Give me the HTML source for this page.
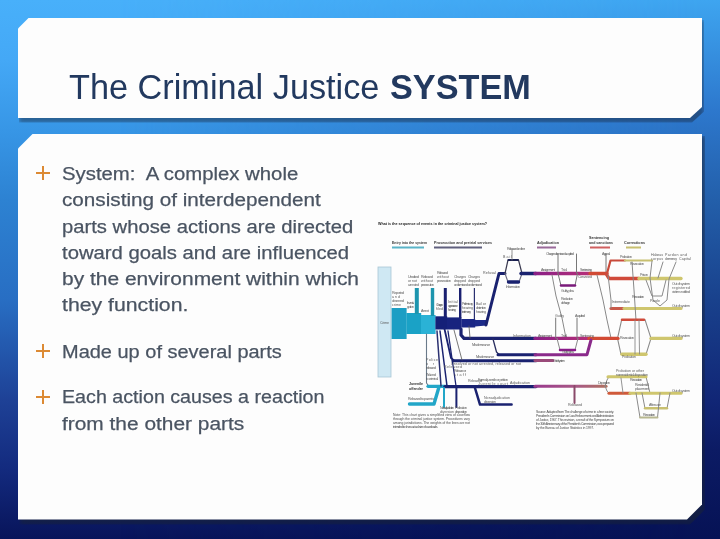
<!DOCTYPE html>
<html><head><meta charset="utf-8">
<style>
*{margin:0;padding:0;box-sizing:border-box}
html,body{width:720px;height:539px;overflow:hidden}
body{position:relative;font-family:"Liberation Sans",sans-serif;
background:linear-gradient(180deg,rgb(72,176,250) 0px,rgb(68,168,246) 60px,rgb(55,150,230) 130px,rgb(45,130,210) 200px,rgb(40,110,195) 300px,rgb(30,65,150) 400px,rgb(19,42,126) 470px,rgb(8,20,90) 539px);}
#bgr{position:absolute;left:0;top:0;width:720px;height:539px;
background:linear-gradient(180deg,rgb(62,165,240) 0px,rgb(45,120,205) 110px,rgb(35,95,170) 200px,rgb(25,65,140) 300px,rgb(17,38,118) 400px,rgb(12,27,100) 450px,rgb(6,18,85) 539px);
-webkit-mask-image:linear-gradient(90deg,transparent 0px,transparent 120px,black 700px);mask-image:linear-gradient(90deg,transparent 0px,transparent 120px,black 700px)}
.shadow{position:absolute;background:rgba(25,35,55,0.6);filter:blur(2px)}
.panel{position:absolute;background:#fdfdfd}
#tp{left:18px;top:17.5px;width:684px;height:100.5px;
clip-path:polygon(11px 0,100% 0,100% calc(100% - 11px),calc(100% - 12px) 100%,0 100%,0 11px)}
#tps{opacity:0.78;left:19px;top:20px;width:685px;height:102.5px;
clip-path:polygon(11px 0,100% 0,100% calc(100% - 11px),calc(100% - 12px) 100%,0 100%,0 11px)}
#cp{left:18px;top:133.5px;width:684px;height:386px;
clip-path:polygon(15px 0,100% 0,100% calc(100% - 15px),calc(100% - 15px) 100%,0 100%,0 15px)}
#cps{left:19.5px;top:136px;width:685.5px;height:388.5px;
clip-path:polygon(15px 0,100% 0,100% calc(100% - 15px),calc(100% - 15px) 100%,0 100%,0 15px)}
.t{position:absolute;white-space:nowrap;transform-origin:0 0;color:#22395f;line-height:1}
.b{font-weight:bold}
.ln{position:absolute;white-space:nowrap;color:#4a5462;line-height:1;transform-origin:0 0;-webkit-text-stroke:0.25px #4a5462}
.plus{position:absolute;width:14px;height:14px;filter:blur(0.35px)}
.plus:before,.plus:after{content:"";position:absolute;background:#dc8a34}
.plus:before{left:0;top:5.9px;width:14.4px;height:2.2px}
.plus:after{left:6px;top:0;width:2.2px;height:14px}

.ln{font-size:18.7px}
</style></head><body>
<div id="bgr"></div>
<div class="shadow" id="tps"></div>
<div class="panel" id="tp"></div>
<div class="shadow" id="cps"></div>
<div class="panel" id="cp"></div>
<div class="t" style="left:69px;top:69.65px;font-size:35.5px;transform:scaleX(0.9653)">The Criminal Justice</div>
<div class="t b" style="left:390px;top:69.65px;font-size:35.5px;transform:scaleX(0.9651)">SYSTEM</div>
<div class="ln" style="left:62px;top:164.97px;transform:scaleX(1.0882)">System:&nbsp; A complex whole</div>
<div class="ln" style="left:62px;top:191.37px;transform:scaleX(1.1071)">consisting of interdependent</div>
<div class="ln" style="left:62px;top:217.57px;transform:scaleX(1.0825)">parts whose actions are directed</div>
<div class="ln" style="left:62px;top:243.97px;transform:scaleX(1.0837)">toward goals and are influenced</div>
<div class="ln" style="left:62px;top:270.37px;transform:scaleX(1.1214)">by the environment within which</div>
<div class="ln" style="left:62px;top:296.37px;transform:scaleX(1.1371)">they function.</div>
<div class="ln" style="left:62px;top:342.97px;transform:scaleX(1.0687)">Made up of several parts</div>
<div class="ln" style="left:62px;top:388.47px;transform:scaleX(1.0529)">Each action causes a reaction</div>
<div class="ln" style="left:62px;top:414.77px;transform:scaleX(1.1173)">from the other parts</div>
<div class="plus" style="left:35.7px;top:166.00px"></div>
<div class="plus" style="left:35.7px;top:344.10px"></div>
<div class="plus" style="left:35.7px;top:389.70px"></div>
<svg style="position:absolute;left:0;top:0;filter:blur(0.3px)" width="720" height="539" viewBox="0 0 720 539">
<defs>
<linearGradient id="gp" gradientUnits="userSpaceOnUse" x1="535" x2="592" y1="0" y2="0"><stop offset="0" stop-color="#8a1f86"/><stop offset="1" stop-color="#b83078"/></linearGradient>
<linearGradient id="gj" gradientUnits="userSpaceOnUse" x1="535" x2="606" y1="0" y2="0"><stop offset="0" stop-color="#9a3a8e"/><stop offset="0.6" stop-color="#a85a84"/><stop offset="1" stop-color="#b07060"/></linearGradient>
</defs>
<g font-family="Liberation Sans" fill="#777">
<!-- header -->
<text x="378" y="225" font-size="4.4" font-weight="bold" fill="#222" textLength="109" lengthAdjust="spacingAndGlyphs">What is the sequence of events in the criminal justice system?</text>
<text x="392" y="243.5" font-size="4" font-weight="bold" fill="#333" textLength="35" lengthAdjust="spacingAndGlyphs">Entry into the system</text>
<text x="434" y="243.5" font-size="4" font-weight="bold" fill="#333" textLength="58" lengthAdjust="spacingAndGlyphs">Prosecution and pretrial services</text>
<text x="537" y="243.5" font-size="4" font-weight="bold" fill="#333" textLength="22" lengthAdjust="spacingAndGlyphs">Adjudication</text>
<text x="589" y="239" font-size="4" font-weight="bold" fill="#333" textLength="20" lengthAdjust="spacingAndGlyphs">Sentencing</text>
<text x="589" y="243.5" font-size="4" font-weight="bold" fill="#333" textLength="24" lengthAdjust="spacingAndGlyphs">and sanctions</text>
<text x="624" y="243.5" font-size="4" font-weight="bold" fill="#333" textLength="21" lengthAdjust="spacingAndGlyphs">Corrections</text>
</g>
<g>
<rect x="392" y="246.5" width="32" height="2" fill="#5ab4c8"/>
<rect x="434" y="246.5" width="48" height="2" fill="#60607e"/>
<rect x="537" y="246.5" width="19" height="2" fill="#9a6a9a"/>
<rect x="590" y="246.5" width="20" height="2" fill="#d06060"/>
<rect x="626" y="246.5" width="15" height="2" fill="#c8c070"/>
</g>
<!-- light column -->
<rect x="378" y="267" width="13" height="110" fill="#cfe8f3" stroke="#a8c6d4" stroke-width="0.8"/>
<!-- teal blocks -->
<rect x="391.6" y="308" width="15" height="31" fill="#1c9ec4"/>
<rect x="406.4" y="313" width="14.8" height="21" fill="#1aa2c6"/>
<rect x="414.8" y="288" width="4" height="26" fill="#1d95ae"/>
<rect x="421" y="315" width="14.6" height="19" fill="#2ab2d6"/>
<rect x="430.8" y="288" width="3.4" height="28" fill="#1d95ae"/>
<!-- navy blocks -->
<rect x="435.4" y="316.3" width="11.8" height="13.2" fill="#152078"/>
<rect x="443.8" y="288" width="3" height="29" fill="#1a2070"/>
<rect x="447" y="317.4" width="14.5" height="12.1" fill="#18237e"/>
<rect x="459" y="288" width="2.4" height="30" fill="#1a2070"/>
<rect x="461.3" y="319" width="13.9" height="8.5" fill="#1a2686"/>
<rect x="473.8" y="288" width="1.2" height="31" fill="#2a3070"/>
<polygon points="475,320 486,320 487.5,322 486.5,325.5 475,326.5" fill="#1c2a8a"/>
<g fill="none" stroke-linecap="round" stroke-linejoin="round">
<!-- diagonal to hexagon -->
<polyline points="486,325 499,273.5 505,273.5" stroke="#1a2270" stroke-width="3"/>
<!-- hexagon 1 -->
<polyline points="505,273.5 508,260 518.5,260 522,273.5" stroke="#3a3a50" stroke-width="1.2"/>
<line x1="508.5" y1="260" x2="518" y2="260" stroke="#1a2050" stroke-width="2"/>
<polyline points="505,273.5 508,282 519,282 522,273.5" stroke="#6a6a80" stroke-width="1.1"/>
<line x1="508.5" y1="282" x2="518.5" y2="282" stroke="#1a2270" stroke-width="3.4"/>
<line x1="512" y1="249" x2="512" y2="260" stroke="#777" stroke-width="0.8"/>
<!-- main line y=273.5 -->
<line x1="521" y1="273.5" x2="536" y2="273.5" stroke="#1a2270" stroke-width="3.4"/>
<line x1="535" y1="273.5" x2="591" y2="273.5" stroke="url(#gp)" stroke-width="3.4"/>
<line x1="590" y1="273.5" x2="607" y2="273.5" stroke="#d24a34" stroke-width="3.4"/>
<!-- verticals -->
<line x1="558" y1="254" x2="558" y2="273" stroke="#777" stroke-width="1"/>
<line x1="576.5" y1="254" x2="576.5" y2="273" stroke="#777" stroke-width="1"/>
<line x1="606" y1="254" x2="606" y2="273" stroke="#777" stroke-width="1"/>
<!-- purple trap 1 -->
<polyline points="558,273.5 561,285.5 575,285.5 577.5,273.5" stroke="#777" stroke-width="1"/>
<line x1="561" y1="285.5" x2="575" y2="285.5" stroke="#7a1a7a" stroke-width="2.5"/>
<!-- red upper / lower -->
<polyline points="607,273.5 610.5,260.5 625,260.5" stroke="#c84a3a" stroke-width="2.2"/>
<line x1="625" y1="260.5" x2="652" y2="260.5" stroke="#c8c070" stroke-width="2.2"/>
<polyline points="606,273.5 609,278.5 639,278.5" stroke="#d04a3a" stroke-width="3.4"/>
<line x1="639" y1="278.5" x2="681" y2="278.5" stroke="#cfc66e" stroke-width="3.4"/>
<!-- line y=308.5 -->
<line x1="611" y1="308.5" x2="624" y2="308.5" stroke="#c85a4a" stroke-width="3.1"/>
<line x1="624" y1="308.5" x2="681" y2="308.5" stroke="#cfc66e" stroke-width="3.1"/>
<!-- gray diagonals upper right -->
<polyline points="552,275 556,296 562,318 566,338" stroke="#888" stroke-width="1"/>
<polyline points="597,275 603,300 607,320 611,338" stroke="#888" stroke-width="1"/>
<polyline points="608,275 611,300 611,308" stroke="#888" stroke-width="1"/>
<polyline points="632,262 634,290 636,320" stroke="#888" stroke-width="1"/>
<polyline points="652,261 650,278 653,300 660,306 667,300 669,279 676,262" stroke="#8a8a8a" stroke-width="1"/>
<polyline points="663,262 658,278" stroke="#8a8a8a" stroke-width="1"/>
<polyline points="646,280 652,296 662,296 666,280" stroke="#8a8a8a" stroke-width="1"/>
<!-- hexagon 2 -->
<polyline points="617.5,338.4 621.7,319.7 645,319.7 651,338.4 646,354.3 621,354.3 617.5,338.4" stroke="#8a8a8a" stroke-width="1.1"/>
<line x1="622" y1="319.7" x2="644" y2="319.7" stroke="#d04a3a" stroke-width="2.5"/>
<line x1="622" y1="354.3" x2="646" y2="354.3" stroke="#cfc66e" stroke-width="3.4"/>
<line x1="635" y1="320" x2="635" y2="354" stroke="#888" stroke-width="0.9"/>
<line x1="639" y1="320" x2="639.5" y2="354" stroke="#888" stroke-width="0.9"/>
<line x1="651" y1="338.4" x2="681" y2="338.4" stroke="#cfc66e" stroke-width="3.4"/>
<!-- line y=338.4 -->
<polyline points="461,329 461,335 464,338.4 536,338.4" stroke="#1a2270" stroke-width="3.2"/>
<line x1="469" y1="326" x2="470" y2="338" stroke="#555" stroke-width="0.8"/>
<line x1="535" y1="338.4" x2="590" y2="338.4" stroke="url(#gp)" stroke-width="3.4"/>
<line x1="589" y1="338.4" x2="618" y2="338.4" stroke="#d24a34" stroke-width="3.4"/>
<polyline points="557,338.4 560,350 575,350 578,338.4" stroke="#888" stroke-width="1"/>
<line x1="560" y1="350" x2="575" y2="350" stroke="#8a1a8a" stroke-width="2.5"/>
<line x1="555.7" y1="318" x2="555.7" y2="338" stroke="#777" stroke-width="1"/>
<line x1="577" y1="318" x2="577" y2="338" stroke="#777" stroke-width="1"/>
<!-- line y=354.7 -->
<polyline points="493,339 496.5,352 499,354.5" stroke="#2a2f60" stroke-width="1.3"/>
<line x1="498" y1="354.7" x2="536" y2="354.7" stroke="#1a2270" stroke-width="3"/>
<polyline points="535,354.7 587,354.7 591,340" stroke="#8a2a8a" stroke-width="3"/>
<!-- line y=360.5 -->
<polyline points="444.5,329 451,358 454,360.5" stroke="#1a2270" stroke-width="1.8"/>
<line x1="453" y1="360.7" x2="536" y2="360.7" stroke="#1a2270" stroke-width="3"/>
<line x1="454" y1="330" x2="462" y2="360" stroke="#555" stroke-width="0.8"/>
<line x1="535" y1="360.5" x2="553" y2="360.5" stroke="#9a4a7a" stroke-width="3"/>
<!-- juvenile -->
<polyline points="426.5,334 426.5,383 429,386.5" stroke="#6a7a8a" stroke-width="1.1"/>
<line x1="428" y1="386.3" x2="447" y2="386.3" stroke="#22a6c8" stroke-width="3.2"/>
<line x1="445" y1="386.6" x2="536" y2="386.6" stroke="#1a2270" stroke-width="3.4"/>
<line x1="535" y1="386.3" x2="606" y2="386.3" stroke="url(#gj)" stroke-width="3.1"/>
<polyline points="438.7,388 434,404 409.5,404" stroke="#22a6c8" stroke-width="3.4"/>
<line x1="444" y1="388" x2="444" y2="407" stroke="#22a6c8" stroke-width="2"/>
<line x1="456.4" y1="388" x2="456.4" y2="407" stroke="#1a2270" stroke-width="2"/>
<polyline points="475,388 480,404.6 511.6,404.6" stroke="#1a2270" stroke-width="2.5"/>
<line x1="574.5" y1="386" x2="574.5" y2="403" stroke="#8a4a6a" stroke-width="2"/>
<!-- navy diagonals from blocks -->
<line x1="437" y1="331" x2="441" y2="386" stroke="#2a3070" stroke-width="1.5"/>
<line x1="440" y1="331" x2="447" y2="386" stroke="#1a2270" stroke-width="1.5"/>
<line x1="448" y1="331" x2="456" y2="386" stroke="#1a2270" stroke-width="1.3"/>
<!-- hexagon 3 -->
<polyline points="605,386 607,380 609,376.7 646,376.7 650,393" stroke="#8a8a8a" stroke-width="1"/>
<line x1="608" y1="376.7" x2="646" y2="376.7" stroke="#cfc66e" stroke-width="3.1"/>
<polyline points="605,386 607,391 609,393.3" stroke="#8a8a8a" stroke-width="1"/>
<line x1="609" y1="393.3" x2="630" y2="393.3" stroke="#d05a3a" stroke-width="3.1"/>
<line x1="630" y1="393.3" x2="681" y2="393.3" stroke="#cfc66e" stroke-width="3.1"/>
<polyline points="642,393 645,408.3 667,408.3 670,393" stroke="#8a8a8a" stroke-width="1"/>
<line x1="645" y1="408.3" x2="667" y2="408.3" stroke="#c8c070" stroke-width="2.4"/>
<polyline points="636,393 640,417.5 657.5,417.5 660,393" stroke="#8a8a8a" stroke-width="1"/>
<line x1="640" y1="417.5" x2="657.5" y2="417.5" stroke="#b8b890" stroke-width="2"/>
<line x1="621" y1="378" x2="623" y2="393" stroke="#888" stroke-width="0.9"/>
</g>
<!-- tiny labels -->
<g font-family="Liberation Sans" fill="#5a5a5a" font-size="3.6" lengthAdjust="spacingAndGlyphs">
<text x="380" y="324" textLength="9">Crime</text>
<text x="407" y="304" textLength="7">Investi-</text><text x="407" y="308" textLength="7">gation</text>
<text x="421" y="312" textLength="8">Arrest</text>
<text x="436" y="306" textLength="7">Charges</text><text x="436" y="310" textLength="7">filed</text>
<text x="448" y="303" textLength="10">Initial</text><text x="448" y="307" textLength="10">appearance</text><text x="448" y="311" textLength="8">hearing</text>
<text x="462" y="305" textLength="11">Preliminary</text><text x="462" y="309" textLength="11">hearing</text><text x="462" y="313" textLength="9">testimony</text>
<text x="476" y="305" textLength="10">Bail or</text><text x="476" y="309" textLength="10">detention</text><text x="476" y="313" textLength="10">hearing</text>
<text x="392" y="294" textLength="12">Reported</text><text x="392" y="298" textLength="8">and</text><text x="392" y="302" textLength="12">observed</text><text x="392" y="306" textLength="9">crime</text>
<text x="408" y="278" textLength="11">Unsolved</text><text x="408" y="282" textLength="9">or not</text><text x="408" y="286" textLength="11">arrested</text>
<text x="421" y="278" textLength="12">Released</text><text x="421" y="282" textLength="12">without</text><text x="421" y="286" textLength="13">prosecution</text>
<text x="437" y="274" textLength="11">Released</text><text x="437" y="278" textLength="12">without</text><text x="437" y="282" textLength="14">prosecution</text>
<text x="454" y="278" textLength="12">Charges</text><text x="454" y="282" textLength="12">dropped</text><text x="454" y="286" textLength="14">or dismissed</text>
<text x="468" y="278" textLength="12">Charges</text><text x="468" y="282" textLength="12">dropped</text><text x="468" y="286" textLength="14">or dismissed</text>
<text x="483" y="274" textLength="13" fill="#555">Refusal</text>
<text x="507" y="250" textLength="18">Released or other</text>
<text x="503" y="258" textLength="9">Bail</text>
<text x="506" y="288" textLength="14">Information</text>
<text x="546" y="255" textLength="28">Charges dismissed acquitted</text>
<text x="602" y="255" textLength="8">Appeal</text>
<text x="541" y="271" textLength="14">Arraignment</text>
<text x="561" y="271" textLength="6">Trial</text>
<text x="580" y="271" textLength="12">Sentencing</text>
<text x="578" y="278" textLength="14">Convicted</text>
<text x="561" y="292" textLength="13">Guilty plea</text>
<text x="561" y="300" textLength="12">Reduction</text><text x="561" y="304" textLength="9">of charge</text>
<text x="620" y="257.5" textLength="12">Probation</text>
<text x="630" y="265" textLength="14">Revocation</text>
<text x="640" y="276" textLength="8">Prison</text>
<text x="651" y="256" textLength="12">Habeas</text><text x="665" y="256" textLength="22">Pardon and</text>
<text x="651" y="260" textLength="12">corpus</text><text x="665" y="260" textLength="12">clemency</text><text x="679" y="260" textLength="12">Capital</text>
<text x="672" y="285" textLength="18">Out of system</text><text x="672" y="289" textLength="18">registered</text><text x="672" y="293" textLength="18">victims notified</text>
<text x="672" y="307" textLength="18">Out of system</text>
<text x="672" y="337" textLength="18">Out of system</text>
<text x="672" y="392" textLength="18">Out of system</text>
<text x="612" y="303" textLength="18">Intermediate</text>
<text x="620" y="339" textLength="14">Revocation</text>
<text x="622" y="358" textLength="14">Probation</text>
<text x="632" y="298" textLength="12">Revocation</text>
<text x="650" y="302" textLength="10">Parole</text>
<text x="513" y="337" textLength="18">Information</text>
<text x="538" y="337" textLength="14">Arraignment</text>
<text x="561" y="337" textLength="6">Trial</text>
<text x="580" y="337" textLength="14">Sentencing</text>
<text x="555" y="317" textLength="9">Guilty</text>
<text x="575" y="317" textLength="10">Acquitted</text>
<text x="562" y="353" textLength="12">Guilty plea</text>
<text x="553" y="362" textLength="12">Out of system</text>
<text x="472" y="346" textLength="18">Misdemeanor</text>
<text x="476" y="358" textLength="18">Misdemeanor</text>
<text x="451" y="365" textLength="70">Unsolved or not arrested, released or not</text>
<text x="444" y="368" textLength="18">Released</text>
<text x="478" y="381" textLength="30">Formal juvenile or petition</text>
<text x="478" y="385" textLength="30">Juvenile court</text>
<text x="510" y="384" textLength="20">Adjudication</text>
<text x="598" y="384" textLength="12">Disposition</text>
<text x="616" y="372" textLength="28">Probation or other</text>
<text x="616" y="376" textLength="32">nonresidential disposition</text>
<text x="630" y="381" textLength="12">Revocation</text>
<text x="635" y="386" textLength="14">Residential</text>
<text x="635" y="390" textLength="14">placement</text>
<text x="649" y="406" textLength="12">Aftercare</text>
<text x="643" y="416" textLength="12">Revocation</text>
<text x="409" y="385" textLength="14" fill="#333" font-weight="bold">Juvenile</text>
<text x="409" y="389.5" textLength="14" fill="#333" font-weight="bold">offender</text>
<text x="408" y="400" textLength="26">Released to parents</text>
<text x="440" y="409" textLength="14">Nonadjudication</text>
<text x="440" y="413" textLength="14">diversion</text>
<text x="455" y="409" textLength="12">Probation</text>
<text x="455" y="413" textLength="12">disposition</text>
<text x="484" y="399" textLength="26">Nonadjudication</text>
<text x="484" y="403" textLength="12">diversion</text>
<text x="568" y="406" textLength="14">Released</text>
<text x="426" y="361" textLength="12">Police</text><text x="426" y="365" textLength="8">or</text><text x="426" y="369" textLength="10">released</text>
<text x="426" y="376" textLength="10">Waived</text><text x="426" y="380" textLength="12">to criminal</text>
<text x="454" y="372" textLength="12">Release or</text><text x="454" y="376" textLength="12">staff</text>
<text x="468" y="382" textLength="14">Released</text>
</g>
<g font-family="Liberation Sans" fill="#4a4a4a" font-size="3.4" lengthAdjust="spacingAndGlyphs">
<text x="393" y="416" textLength="77">Note: This chart gives a simplified view of caseflow</text>
<text x="393" y="420" textLength="77">through the criminal justice system. Procedures vary</text>
<text x="393" y="424" textLength="77">among jurisdictions. The weights of the lines are not</text>
<text x="393" y="428" textLength="45">intended to show actual size of caseloads.</text>
<text x="536" y="413" textLength="78">Source: Adapted from The challenge of crime in a free society.</text>
<text x="536" y="417" textLength="78">President's Commission on Law Enforcement and Administration</text>
<text x="536" y="421" textLength="78">of Justice, 1967. This revision, a result of the Symposium on</text>
<text x="536" y="425" textLength="78">the 30th Anniversary of the President's Commission, was prepared</text>
<text x="536" y="429" textLength="58">by the Bureau of Justice Statistics in 1997.</text>
</g>
</svg>

</body></html>
